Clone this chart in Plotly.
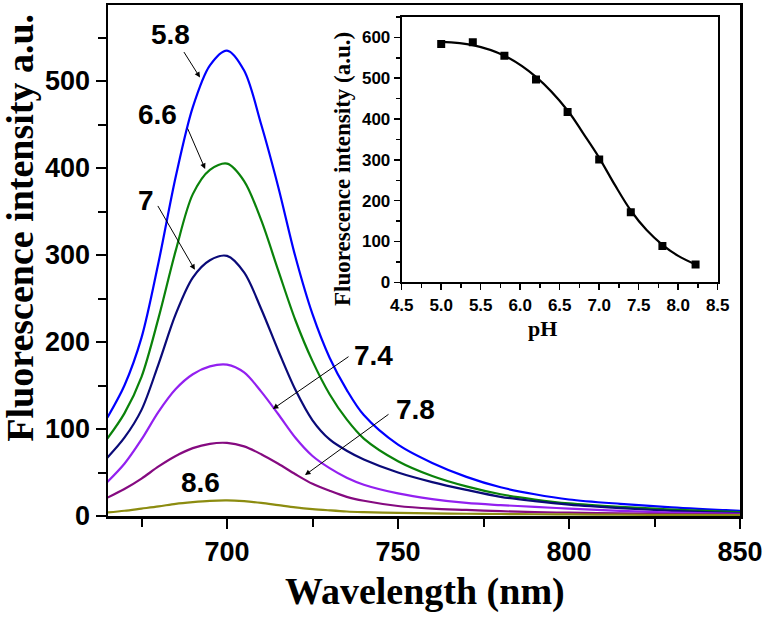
import plotly.graph_objects as go

# ---------------- data ----------------
wavelength = [665, 670, 675, 680, 685, 690, 695, 700, 705, 710, 715, 720, 725,
              730, 735, 740, 750, 760, 770, 780, 790, 800, 815, 830, 850]

ph_labels = ["5.8", "6.6", "7", "7.4", "7.8", "8.6"]

int_58 = [113, 150, 205, 292, 390, 470, 518, 535, 512, 450, 378, 298, 232,
          182, 145, 116, 82, 61, 45, 33, 25, 19, 14, 10, 6]
int_66 = [89, 118, 160, 228, 305, 370, 398, 405, 385, 340, 282, 225, 178,
          140, 111, 89, 63, 46, 34, 25, 19, 14.5, 10.5, 7.5, 4.5]
int_70 = [67, 90, 122, 175, 232, 274, 294, 299, 280, 238, 190, 145, 110,
          88, 75, 65, 50, 39, 30, 22, 17, 13, 9, 6, 3]
int_74 = [39, 60, 88, 120, 146, 163, 172, 174, 165, 143, 117, 90, 69,
          55, 44, 36, 26, 19.5, 15, 12.5, 10.5, 8.5, 6, 4, 2.5]
int_78 = [21, 31, 43, 57, 69, 78, 83, 84, 80, 71, 60, 48, 37,
          29, 22, 17.5, 11.5, 8.5, 7, 5.5, 4.5, 3.8, 3, 2.3, 1.5]
int_86 = [4, 6, 8.5, 11, 14, 16, 17.5, 18, 17, 15, 12.5, 10, 8,
          6.5, 5.2, 4.5, 3.6, 3, 2.6, 2.3, 2, 1.8, 1.5, 1.2, 1]

series = [int_58, int_66, int_70, int_74, int_78, int_86]
colors = ["#0000FF", "#0A820A", "#0A0A78", "#9320F0", "#850A80", "#8C8C10"]

# arrows: (label, head wavelength, head intensity)
arrow_heads = [("5.8", 692.1, 504), ("6.6", 693.6, 399), ("7", 690.6, 283),
               ("7.4", 713.4, 123), ("7.8", 722.8, 47)]
# label text centres in data coords
label_pos = [(683.6, 553), (679.8, 462), (676.3, 363), (742.7, 184), (755.0, 123), (692.1, 39)]

# inset data
ph_points = [5.0, 5.4, 5.8, 6.2, 6.6, 7.0, 7.4, 7.8, 8.22]
fi_points = [584, 588, 555, 497, 417, 301, 172, 89, 44]
ph_fit = [5.0, 5.4, 5.8, 6.2, 6.6, 6.8, 7.0, 7.2, 7.4, 7.6, 7.8, 8.0, 8.22]
fi_fit = [589, 581, 555, 503, 421, 364, 305, 238, 176, 128, 92, 65, 44]

# ---------------- layout geometry ----------------
W, H = 765, 617
L, R, T, B = 108, 25, 2, 101
PW = W - L - R
PH = H - T - B
X0, X1 = 665.2, 850
Y1 = 587.4


def pxx(x):
    return (x - L) / PW


def pxy(y):
    return (H - B - y) / PH


fig = go.Figure()

for vals, col in zip(series, colors):
    fig.add_trace(go.Scatter(x=wavelength, y=vals, mode="lines",
                             line=dict(color=col, width=2.2, shape="spline", smoothing=0.9),
                             showlegend=False, hoverinfo="skip",
                             xaxis="x", yaxis="y"))

fig.add_trace(go.Scatter(x=ph_fit, y=fi_fit, mode="lines",
                         line=dict(color="black", width=2.2, shape="spline", smoothing=1.0),
                         showlegend=False, xaxis="x2", yaxis="y2"))
fig.add_trace(go.Scatter(x=ph_points, y=fi_points, mode="markers",
                         marker=dict(symbol="square", size=8, color="black"),
                         showlegend=False, xaxis="x2", yaxis="y2"))

sans_b = dict(family="Arial, Liberation Sans, sans-serif", color="black", weight="bold")
serif_b = dict(family="Times New Roman, Liberation Serif, serif", color="black", weight="bold")

annotations = []
tails = [(183, 48), (187, 125), (157, 203), (350, 355), (390, 413)]
for (lab, hx, hy), (tx, ty) in zip(arrow_heads, tails):
    hpx = L + (hx - X0) / (X1 - X0) * PW
    hpy = (H - B) - hy / Y1 * PH
    annotations.append(dict(x=hx, y=hy, xref="x", yref="y", text="",
                            showarrow=True, arrowhead=2, arrowsize=1.1, arrowwidth=1,
                            arrowcolor="black", ax=tx - hpx, ay=ty - hpy,
                            axref="pixel", ayref="pixel"))
for lab, (lx, ly) in zip(ph_labels, label_pos):
    annotations.append(dict(x=lx, y=ly, xref="x", yref="y", text=lab, showarrow=False,
                            xanchor="center", yanchor="middle",
                            font=dict(size=28, **sans_b)))

# axis titles
annotations.append(dict(x=pxx(425), y=pxy(592), xref="paper", yref="paper",
                        text="Wavelength (nm)", showarrow=False,
                        xanchor="center", yanchor="middle", font=dict(size=38, **serif_b)))
annotations.append(dict(x=pxx(20), y=pxy(226), xref="paper", yref="paper",
                        text="Fluorescence intensity a.u.", showarrow=False, textangle=-90,
                        xanchor="center", yanchor="middle", font=dict(size=38, **serif_b)))
annotations.append(dict(x=pxx(542), y=pxy(327), xref="paper", yref="paper",
                        text="pH", showarrow=False,
                        xanchor="center", yanchor="middle", font=dict(size=22, **serif_b)))
annotations.append(dict(x=pxx(342), y=pxy(167), xref="paper", yref="paper",
                        text="Fluorescence intensity (a.u.)", showarrow=False, textangle=-90,
                        xanchor="center", yanchor="middle", font=dict(size=23, **serif_b)))

fig.update_layout(
    width=W, height=H,
    margin=dict(l=L, r=R, t=T, b=B),
    paper_bgcolor="white", plot_bgcolor="white",
    showlegend=False,
    annotations=annotations,
    xaxis=dict(range=[X0, X1], tick0=700, dtick=50, ticks="outside", ticklen=10,
               tickwidth=2, tickcolor="black", showline=True, linewidth=2.5,
               linecolor="black", mirror=True, showgrid=False, zeroline=False,
               tickfont=dict(size=27, **sans_b),
               minor=dict(dtick=25, tick0=0, ticks="outside", ticklen=8, tickwidth=2,
                          tickcolor="black", showgrid=False)),
    yaxis=dict(range=[0, Y1], tick0=0, dtick=100, ticks="outside", ticklen=10,
               tickwidth=2, tickcolor="black", showline=True, linewidth=2.5,
               linecolor="black", mirror=True, showgrid=False, zeroline=False,
               tickfont=dict(size=27, **sans_b),
               minor=dict(dtick=50, tick0=0, ticks="outside", ticklen=8, tickwidth=2,
                          tickcolor="black", showgrid=False)),
    xaxis2=dict(domain=[pxx(401.7), pxx(717.7)], anchor="y2", range=[4.5, 8.5],
                tick0=4.5, dtick=0.5, tickformat=".1f", ticks="outside", ticklen=6,
                tickwidth=1.5, tickcolor="black", showline=True, linewidth=2,
                linecolor="black", mirror=True, showgrid=False, zeroline=False,
                tickfont=dict(size=17, **sans_b),
                minor=dict(dtick=0.25, tick0=0, ticks="outside", ticklen=4, tickwidth=1.5,
                           tickcolor="black", showgrid=False)),
    yaxis2=dict(domain=[pxy(281), pxy(14)], anchor="x2", range=[0, 650],
                tick0=0, dtick=100, ticks="outside", ticklen=6,
                tickwidth=1.5, tickcolor="black", showline=True, linewidth=2,
                linecolor="black", mirror=True, showgrid=False, zeroline=False,
                tickfont=dict(size=17, **sans_b),
                minor=dict(dtick=50, tick0=0, ticks="outside", ticklen=4, tickwidth=1.5,
                           tickcolor="black", showgrid=False)),
)

fig.write_html("out.html", config={"displayModeBar": False, "staticPlot": True},
               post_script="document.body.style.margin='0';document.body.style.padding='0';")
